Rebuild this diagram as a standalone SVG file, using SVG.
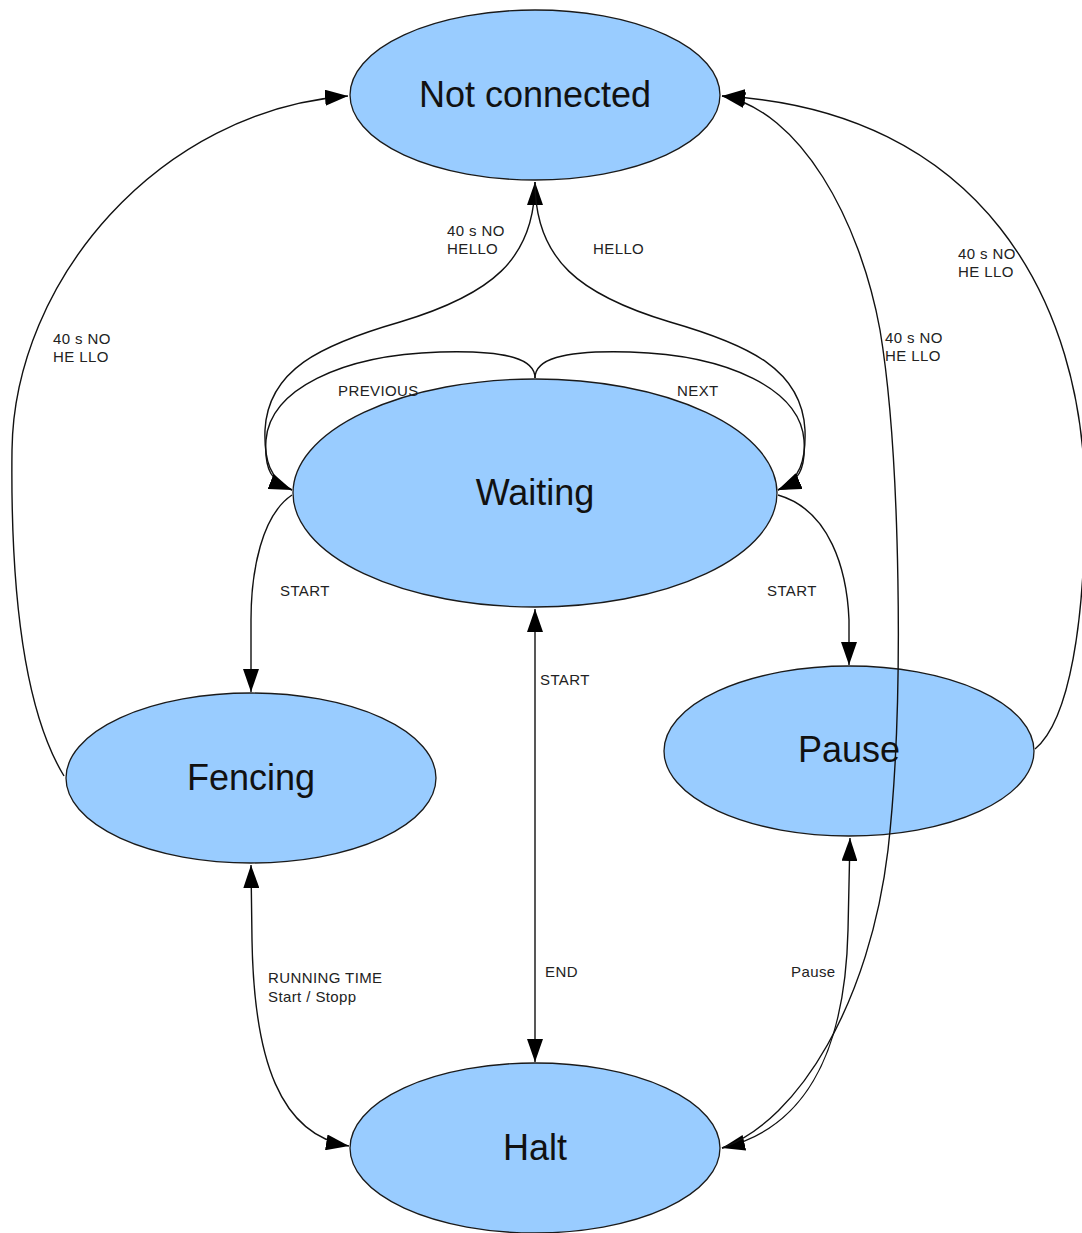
<svg xmlns="http://www.w3.org/2000/svg" width="1082" height="1233" viewBox="0 0 1082 1233">
<style>
.node{fill:#99ccff;stroke:#1a1a1a;stroke-width:1.3}
.nl{font-family:"Liberation Sans",Arial,sans-serif;font-size:36px;fill:#111;text-anchor:middle}
.el{font-family:"Liberation Sans",Arial,sans-serif;font-size:15px;fill:#222;letter-spacing:0.4px}
.c{fill:none;stroke:#111;stroke-width:1.4}
.a{marker-end:url(#ah)}
.b{marker-start:url(#ah);marker-end:url(#ah)}
</style>
<defs>
<marker id="ah" markerUnits="userSpaceOnUse" markerWidth="24" markerHeight="16" viewBox="0 0 24 16" refX="23" refY="8" orient="auto-start-reverse">
<path d="M0,0 L23,8 L0,16 z" fill="#000"/>
</marker>
</defs>
<rect width="1082" height="1233" fill="#fff"/>
<g id="node-not-connected">
<ellipse class="node" cx="535" cy="95" rx="185" ry="85"/>
<text class="nl" x="535" y="107">Not connected</text>
</g>
<g id="node-waiting">
<ellipse class="node" cx="535" cy="493" rx="242" ry="114"/>
<text class="nl" x="535" y="505">Waiting</text>
</g>
<g id="node-fencing">
<ellipse class="node" cx="251" cy="778" rx="185" ry="85"/>
<text class="nl" x="251" y="790">Fencing</text>
</g>
<g id="node-pause">
<ellipse class="node" cx="849" cy="751" rx="185" ry="85"/>
<text class="nl" x="849" y="762">Pause</text>
</g>
<g id="node-halt">
<ellipse class="node" cx="535" cy="1148" rx="185" ry="85"/>
<text class="nl" x="535" y="1160">Halt</text>
</g>
<g id="connectors">
<path class="c a" d="M64,776 C30,720 10,620 12,450 C14,280 160,110 348,96"/>
<path class="c a" d="M292,490 C270,480 264,460 265,430 C268,370 320,345 400,322 C490,295 535,260 535,182"/>
<path class="c a" d="M535,378 C535,360 510,350 440,352 C340,355 270,390 266,440 C264,470 272,482 292,490"/>
<path class="c a" d="M535,182 C535,260 580,295 670,322 C750,345 802,370 805,430 C806,460 800,480 778,490"/>
<path class="c a" d="M535,378 C535,360 560,350 630,352 C730,355 800,390 804,440 C806,470 798,482 778,490"/>
<path class="c a" d="M292,495 C262,515 251,570 251,620 L251,692"/>
<path class="c a" d="M778,495 C830,510 847,570 849,620 L849,665"/>
<path class="c b" d="M535,609 L535,1062"/>
<path class="c b" d="M251,865 L252,940 C254,1060 280,1135 349,1146"/>
<path class="c b" d="M850,838 L848,930 C845,1060 800,1130 722,1148"/>
<path class="c a" d="M722,1148 C800,1120 870,1000 888,850 C905,700 900,450 880,330 C860,220 800,110 722,96"/>
<path class="c a" d="M1035,749 C1070,720 1085,620 1085,500 C1085,300 980,110 722,96"/>
</g>
<g id="labels">
<text class="el" x="447" y="236">40 s NO</text>
<text class="el" x="447" y="254">HELLO</text>
<text class="el" x="593" y="254">HELLO</text>
<text class="el" x="338" y="396">PREVIOUS</text>
<text class="el" x="677" y="396">NEXT</text>
<text class="el" x="53" y="344">40 s NO</text>
<text class="el" x="53" y="362">HE LLO</text>
<text class="el" x="885" y="343">40 s NO</text>
<text class="el" x="885" y="361">HE LLO</text>
<text class="el" x="958" y="259">40 s NO</text>
<text class="el" x="958" y="277">HE LLO</text>
<text class="el" x="280" y="596">START</text>
<text class="el" x="767" y="596">START</text>
<text class="el" x="540" y="685">START</text>
<text class="el" x="545" y="977">END</text>
<text class="el" x="268" y="983">RUNNING TIME</text>
<text class="el" x="268" y="1002">Start / Stopp</text>
<text class="el" x="791" y="977">Pause</text>
</g>
</svg>
